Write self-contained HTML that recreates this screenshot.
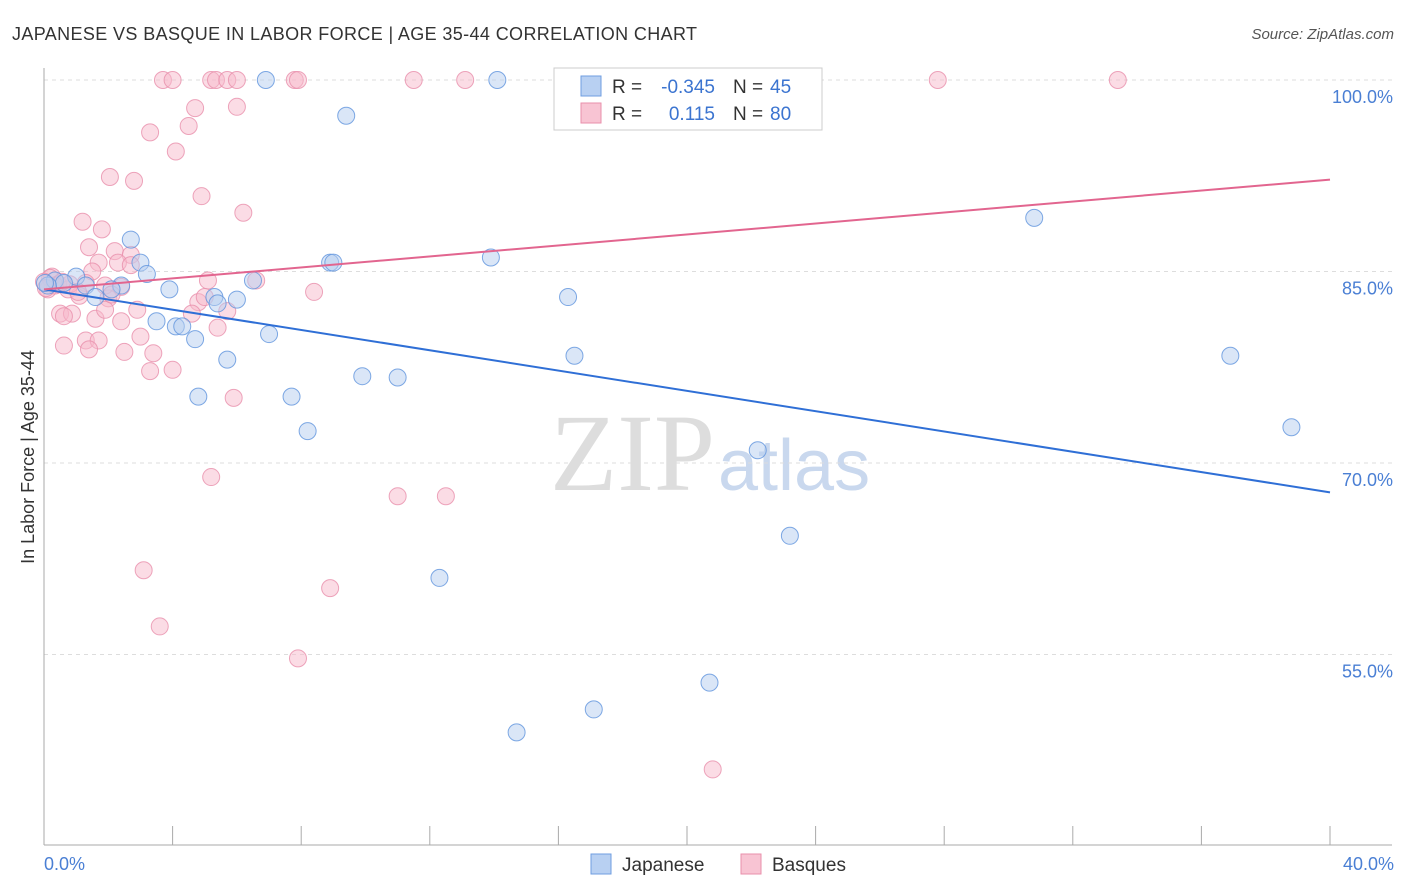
<!DOCTYPE html>
<html><head><meta charset="utf-8"><style>
body{margin:0;background:#fff;font-family:"Liberation Sans",sans-serif;}
svg{display:block}
</style></head><body>
<svg id="chart" width="1406" height="892" viewBox="0 0 1406 892">
<text x="12" y="40" font-size="18" fill="#333" textLength="685">JAPANESE VS BASQUE IN LABOR FORCE | AGE 35-44 CORRELATION CHART</text>
<text x="1394" y="39" font-size="15" fill="#555" font-style="italic" text-anchor="end">Source: ZipAtlas.com</text>
<text x="715" y="490" font-size="110" fill="#ddd" text-anchor="end" font-family="Liberation Serif">ZIP</text>
<text x="718" y="490" font-size="72" fill="#c9d8ee">atlas</text>
<g id="grid"></g>
<g id="marks"></g>
<text transform="translate(34,457) rotate(-90)" font-size="18" fill="#333" text-anchor="middle">In Labor Force | Age 35-44</text>
<text x="44" y="870" font-size="18" fill="#4a7fd4">0.0%</text>
<text x="1394" y="870" font-size="18" fill="#4a7fd4" text-anchor="end">40.0%</text>
<g>
<rect x="554" y="68" width="268" height="62" fill="#fff" stroke="#ccc"/>
<rect x="581" y="76" width="20" height="20" fill="#b8d0f2" stroke="#6f9ee0"/>
<rect x="581" y="103" width="20" height="20" fill="#f8c4d3" stroke="#e98fab"/>
<text x="612" y="93" font-size="19" fill="#333">R =</text>
<text x="715" y="93" font-size="19" fill="#3b74d0" text-anchor="end">-0.345</text>
<text x="733" y="93" font-size="19" fill="#333">N =</text>
<text x="770" y="93" font-size="19" fill="#3b74d0">45</text>
<text x="612" y="120" font-size="19" fill="#333">R =</text>
<text x="715" y="120" font-size="19" fill="#3b74d0" text-anchor="end">0.115</text>
<text x="733" y="120" font-size="19" fill="#333">N =</text>
<text x="770" y="120" font-size="19" fill="#3b74d0">80</text>
</g>
<g>
<rect x="591" y="854" width="20" height="20" fill="#b8d0f2" stroke="#6f9ee0"/>
<text x="622" y="871" font-size="19" fill="#333">Japanese</text>
<rect x="741" y="854" width="20" height="20" fill="#f8c4d3" stroke="#e98fab"/>
<text x="772" y="871" font-size="19" fill="#333">Basques</text>
</g>
</svg>
<script>
const yTicks=[100,85,70,55];
const yTickLabels=["100.0%","85.0%","70.0%","55.0%"];
const xTicks=[0,4,8,12,16,20,24,28,32,36,40];
const japX=[6.9,14.1,9.4,30.8,2.7,13.9,3.0,8.9,9.0,3.2,1.0,0.34,0.62,6.5,1.3,2.4,2.1,3.9,1.6,5.3,6.0,5.4,16.3,3.5,4.1,4.3,4.7,7.0,5.7,16.5,36.9,9.9,11.0,4.8,7.7,8.2,38.8,22.2,23.2,12.3,20.7,17.1,14.7,0.12,0.03];
const japY=[100,100,97.2,89.2,87.5,86.1,85.7,85.7,85.7,84.8,84.6,84.3,84.1,84.3,83.9,83.9,83.6,83.6,83.0,83.0,82.8,82.5,83.0,81.1,80.7,80.7,79.7,80.1,78.1,78.4,78.4,76.8,76.7,75.2,75.2,72.5,72.8,71.0,64.3,61.0,52.8,50.7,48.9,83.9,84.1];
const basX=[3.7,4.0,5.2,5.35,5.7,6.0,7.8,7.9,11.5,13.1,27.8,33.4,4.7,6.0,4.5,3.3,4.1,2.05,2.8,4.9,6.2,1.2,1.8,1.4,2.2,2.7,1.7,2.3,1.5,5.1,6.6,0.25,0.44,1.3,2.4,0.75,1.1,2.0,8.4,4.8,5.0,2.9,4.6,5.7,0.5,0.87,0.62,1.6,2.4,1.9,5.4,3.0,1.3,1.7,0.62,1.4,2.5,3.4,3.3,4.0,5.9,5.2,11.0,12.5,3.1,8.9,3.6,7.9,20.8,0.12,0.19,0.34,0,0.06,0.8,1.06,0.56,1.9,2.1,2.7];
const basY=[100,100,100,100,100,100,100,100,100,100,100,100,97.8,97.9,96.4,95.9,94.4,92.4,92.1,90.9,89.6,88.9,88.3,86.9,86.6,86.3,85.7,85.7,85.0,84.3,84.3,84.6,84.0,84.1,83.8,83.6,83.1,82.9,83.4,82.6,83.0,82.0,81.7,81.9,81.7,81.7,81.5,81.3,81.1,82.0,80.6,79.9,79.6,79.6,79.2,78.9,78.7,78.6,77.2,77.3,75.1,68.9,67.4,67.4,61.6,60.2,57.2,54.7,46.0,83.6,84.5,83.9,84.2,83.7,84.0,83.4,84.2,83.9,83.2,85.5];
const japTrend=[83.6,67.7];
const basTrend=[83.6,92.2];
const X=v=>44+v/40*1286, Y=v=>80+(100-v)*12.767;
const NS="http://www.w3.org/2000/svg";
const grid=document.getElementById('grid'), marks=document.getElementById('marks');
function mk(tag,attrs,parent){const e=document.createElementNS(NS,tag);for(const k in attrs)e.setAttribute(k,attrs[k]);parent.appendChild(e);return e;}
yTicks.forEach((t,i)=>{
 const l=mk('line',{x1:44,x2:1392,y1:Y(t),y2:Y(t),stroke:'#ddd','stroke-dasharray':'4,4'},grid);
 
 
 const tx=mk('text',{x:1393,y:Y(t)+23,'font-size':18,fill:'#4a7fd4','text-anchor':'end'},grid);
 tx.textContent=yTickLabels[i];
 
 
});
const ax=mk('line',{x1:44,x2:44,y1:68,y2:845,stroke:'#aaa'},grid);


const bx=mk('line',{x1:44,x2:1392,y1:845,y2:845,stroke:'#aaa'},grid);


xTicks.forEach(t=>{
 const l=mk('line',{x1:X(t),x2:X(t),y1:826,y2:845,stroke:'#aaa'},grid);
 
 
});
function pts(xs,ys,fill,stroke,name){
 xs.forEach((v,i)=>{
  const c=mk('circle',{cx:X(v),cy:Y(ys[i]),r:8.5,fill:fill,'fill-opacity':0.5,stroke:stroke,'stroke-opacity':0.8,'stroke-width':1},marks);
  
  
 });
}
pts(basX,basY,'#f7b9cb','#e98fab','basques-point');
pts(japX,japY,'#b5cdf0','#5f93dd','japanese-point');
const t1=mk('line',{x1:X(0),x2:X(40),y1:Y(japTrend[0]),y2:Y(japTrend[1]),stroke:'#2f6fd6','stroke-width':2},marks);


const t2=mk('line',{x1:X(0),x2:X(40),y1:Y(basTrend[0]),y2:Y(basTrend[1]),stroke:'#e2658f','stroke-width':2},marks);


</script>
</body></html>
